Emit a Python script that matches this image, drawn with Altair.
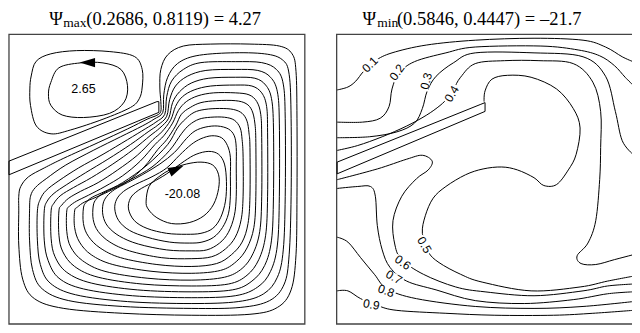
import altair as alt
import pandas as pd

# All positions are digitised from the reference figure, in its own pixel grid
# (x to the right, y downward).  The scales below map that grid onto the page.
LEFT_BOX = [4, 34, 306, 331]
RIGHT_BOX = [338.5, 34, 642, 331]

LEFT_PLATE = [(4, 164), (155, 103), (157, 103), (157, 114), (4, 178)]
RIGHT_PLATE = [(339, 165), (485, 106), (490, 104), (490, 113), (339, 177)]

# Secondary (upper-left) cell of the stream function, closed loops
UPPER_CELL = [
    [(26.7, 76.7), (31.7, 61.7), (46.7, 54), (73, 50.7), (107, 51.7), (132, 56.7), (140, 70), (140, 88),
     (137, 100), (128, 109), (100, 121), (67, 132), (47, 136), (32, 128), (26, 107), (25.3, 90)],
    [(46.7, 83.3), (55, 68.3), (76.7, 63.3), (100, 63.3), (118.3, 70), (125, 86.7), (121.7, 103.3),
     (106.7, 115), (80, 119.3), (58.3, 116.7), (46.7, 106.7), (44.3, 95)],
]

# Main (clockwise) cell of the stream function, closed loops from outside in
MAIN_CELL = [
    [(159, 103), (158, 88), (159, 70), (166, 55), (182, 46), (210, 44), (250, 44), (280, 46), (293, 54), (297, 72),
     (298, 120), (298, 200), (297, 260), (292, 296), (278, 314), (250, 321), (190, 322), (120, 320), (60, 315),
     (30, 305), (18, 285), (14, 250), (14, 215), (14, 200), (16, 190), (24, 180), (40, 171), (60, 161), (95, 145),
     (125, 131), (145, 121), (155, 117), (159, 113)],
    [(161, 114), (162, 96), (166, 78), (176, 64), (195, 56), (230, 53), (265, 54), (283, 60), (290, 75), (292, 120),
     (292, 200), (290, 260), (285, 290), (270, 307), (240, 314), (190, 315), (120, 313), (65, 307), (38, 295),
     (28, 275), (25, 245), (25, 215), (26, 200), (31, 191), (42, 182), (62, 168), (90, 153), (118, 139),
     (140, 128), (152, 121)],
    [(163, 116), (165, 98), (170, 82), (182, 70), (200, 63), (235, 62), (262, 63), (277, 70), (284, 85), (286, 120),
     (286, 200), (284, 255), (278, 283), (264, 300), (238, 308), (190, 310), (125, 308), (72, 301), (46, 289),
     (36, 270), (33, 245), (33, 215), (36, 203), (42, 194), (55, 184), (75, 171), (100, 157), (125, 142),
     (143, 131), (154, 124)],
    [(165, 118), (168, 101), (174, 87), (186, 77), (205, 71), (235, 70), (258, 71), (271, 78), (278, 93), (280, 125),
     (280, 200), (278, 250), (271, 277), (258, 293), (235, 302), (190, 304), (130, 302), (80, 295), (55, 284),
     (44, 266), (40, 245), (40, 215), (43, 205), (50, 197), (63, 188), (82, 176), (105, 162), (128, 147),
     (146, 134), (156, 127)],
    [(167, 120), (171, 104), (178, 93), (190, 84), (208, 79), (235, 78), (255, 79), (266, 86), (272, 100), (274, 130),
     (274, 200), (272, 245), (265, 271), (252, 287), (232, 296), (190, 298), (135, 296), (88, 289), (63, 278),
     (51, 262), (47, 243), (47, 215), (50, 207), (57, 199), (70, 191), (88, 181), (110, 167), (131, 152),
     (148, 138), (158, 130)],
    [(169, 122), (174, 108), (181, 98), (193, 91), (210, 87), (235, 86), (252, 87), (262, 94), (267, 108), (268, 135),
     (268, 200), (266, 240), (259, 265), (247, 281), (228, 290), (190, 292), (140, 290), (95, 283), (71, 272),
     (59, 257), (55, 240), (55, 215), (58, 209), (65, 202), (77, 195), (95, 186), (115, 173), (135, 158),
     (151, 142), (160, 134)],
    [(171, 125), (177, 112), (185, 103), (197, 97), (213, 94), (235, 94), (249, 96), (257, 103), (261, 116), (262, 140),
     (262, 200), (260, 236), (253, 259), (242, 274), (224, 283), (190, 286), (145, 284), (102, 277), (79, 266),
     (67, 252), (63, 236), (63, 215), (66, 210), (73, 205), (85, 199), (102, 190), (120, 179), (138, 164),
     (153, 147), (162, 138)],
    [(174, 128), (180, 116), (189, 109), (200, 104), (216, 102), (235, 102), (246, 105), (252, 112), (255, 125),
     (256, 145), (256, 200), (254, 232), (247, 253), (236, 267), (220, 276), (190, 279), (150, 277), (110, 270),
     (88, 260), (76, 247), (71, 232), (71, 215), (74, 211), (81, 206), (93, 201), (110, 193), (126, 184),
     (142, 170), (156, 152), (165, 142)],
    [(176, 130), (184, 121), (193, 114), (204, 111), (219, 110), (233, 111), (242, 115), (247, 123), (249, 135),
     (250, 150), (250, 200), (248, 228), (242, 247), (231, 260), (216, 269), (190, 272), (155, 270), (118, 263),
     (97, 253), (85, 241), (80, 228), (80, 212), (83, 206), (89, 201), (102, 195), (120, 186), (145, 168), (166, 147)],
    [(180, 136), (188, 127), (198, 121), (210, 119), (224, 119), (234, 122), (240, 130), (242, 142), (243, 160),
     (243, 200), (241, 224), (235, 242), (225, 254), (211, 262), (190, 264), (160, 263), (127, 256), (107, 247),
     (95, 236), (90, 224), (90, 210), (93, 203), (100, 197), (112, 191), (128, 183), (150, 170), (168, 153)],
    [(185, 141), (194, 133), (205, 129), (217, 128), (228, 131), (234, 138), (236, 150), (236, 170), (236, 200),
     (234, 220), (228, 237), (219, 248), (206, 255), (190, 256), (165, 255), (136, 249), (117, 241), (105, 231),
     (100, 220), (100, 208), (104, 200), (112, 193), (125, 186), (140, 178), (158, 167), (173, 155)],
    [(190, 147), (200, 141), (211, 138), (221, 140), (227, 148), (230, 160), (230, 180), (230, 200), (228, 218),
     (222, 232), (213, 242), (201, 247), (188, 248), (168, 247), (145, 242), (127, 235), (116, 225), (112, 213),
     (114, 203), (121, 195), (133, 188), (150, 180), (165, 171), (178, 158)],
    [(183, 164), (195, 157), (208, 154), (218, 157), (224, 167), (226, 185), (225, 205), (220, 222), (212, 233),
     (200, 238), (185, 239), (165, 238), (145, 233), (132, 225), (126, 213), (128, 202), (136, 194), (150, 186),
     (165, 177)],
    [(144, 205), (147, 190), (157, 180), (170, 172), (185, 167), (200, 165), (212, 168), (218, 178), (218, 192),
     (213, 208), (203, 220), (188, 227), (170, 228), (155, 222), (146, 213)],
]

# Isotherms of the right panel (open lines, wall to wall or wall to plate)
ISOTHERM_LEVELS = ["0.1", "0.2", "0.3", "0.4", "0.5", "0.6", "0.7", "0.8", "0.9"]
ISOTHERMS = [
    [(339, 91), (350, 88), (358, 82), (366, 72), (378, 61), (395, 53), (430, 45), (480, 40), (540, 38), (590, 40),
     (613, 47), (630, 57), (641, 62)],
    [(339, 124), (365, 124), (383, 120), (392, 108), (395, 90), (402, 74), (418, 62), (450, 53), (480, 47), (547, 46),
     (585, 50), (607, 56), (622, 66), (633, 78), (641, 86)],
    [(339, 140), (372, 139), (400, 134), (418, 125), (426, 110), (431, 92), (440, 77), (458, 63), (480, 53),
     (540, 53), (590, 57), (613, 77), (623, 113), (630, 143), (641, 157)],
    [(339, 153), (360, 148), (385, 139), (410, 128), (430, 117), (444, 107), (452, 99), (458, 90), (465, 78),
     (480, 64), (510, 61), (545, 61), (580, 64), (600, 83), (608, 113), (608, 150), (607, 183), (603, 225),
     (595, 248), (584, 261), (588, 269), (603, 270), (622, 265), (641, 260)],
    [(489, 103), (490, 92), (497, 80), (513, 76), (537, 78), (563, 90), (580, 110), (587, 130), (583, 157),
     (575, 173), (563, 188), (550, 189), (540, 181), (523, 173), (507, 170), (488, 172), (470, 178), (450, 190),
     (437, 202), (429, 220), (426, 238), (432, 257), (443, 268), (465, 280), (487, 288), (537, 297), (587, 293),
     (615, 287), (641, 282)],
    [(339, 183), (380, 172), (410, 162), (426, 158), (436, 164), (432, 173), (420, 182), (405, 200), (396, 225),
     (398, 250), (405, 265), (427, 280), (460, 293), (490, 298), (540, 302), (590, 297), (615, 292), (641, 290)],
    [(339, 192), (360, 190), (373, 190), (378, 200), (380, 230), (385, 255), (393, 273), (410, 287), (440, 296),
     (480, 307), (530, 310), (580, 306), (615, 300), (641, 298)],
    [(339, 242), (350, 247), (363, 263), (377, 280), (390, 295), (420, 305), (480, 313), (540, 315), (590, 313),
     (641, 308)],
    [(339, 297), (350, 297), (363, 305), (380, 312), (400, 317), (450, 320), (500, 322), (560, 322), (600, 320),
     (641, 317)],
]
ISOTHERM_LABEL_X = [372.5, 400, 430, 456, 428, 406, 397, 389, 374]
ISOTHERM_LABEL_Y = [65, 73, 82, 95, 250, 268, 283, 297, 311]
ISOTHERM_LABEL_ANGLE = [315, 305, 285, 300, 60, 35, 30, 20, 10]

CELL_LABELS = ["2.65", "-20.08"]
CELL_LABEL_X = [80, 181]
CELL_LABEL_Y = [90, 198]

ARROW_X = [84, 175]
ARROW_Y = [63, 172]
ARROW_ANGLE = [0, 155]

TITLE_PSI_X = [45, 365]
TITLE_SUB = ["max", "min"]
TITLE_SUB_X = [59.5, 380]
TITLE_REST = ["(0.2686, 0.8119) = 4.27", "(0.5846, 0.4447) = \u201321.7"]
TITLE_REST_X = [83, 400]
TITLE_BASE_Y = 24

# ---------------------------------------------------------------- tables
rows = []
for gname, group, kind in [("up", UPPER_CELL, "closed"), ("main", MAIN_CELL, "closed"),
                           ("iso", ISOTHERMS, "open")]:
    for j, pts in enumerate(group):
        for i, (x, y) in enumerate(pts):
            rows.append({"id": f"{gname}{j}", "kind": kind, "i": i, "x": x, "y": y})
for name, pts in [("plateL", LEFT_PLATE), ("plateR", RIGHT_PLATE)]:
    for i, (x, y) in enumerate(pts):
        rows.append({"id": name, "kind": "plate", "i": i, "x": x, "y": y})
lines = pd.DataFrame(rows)

boxes = pd.DataFrame([LEFT_BOX, RIGHT_BOX], columns=["x", "y", "x2", "y2"])
iso_labels = pd.DataFrame({"text": ISOTHERM_LEVELS, "x": ISOTHERM_LABEL_X, "y": ISOTHERM_LABEL_Y,
                           "angle": ISOTHERM_LABEL_ANGLE})
cell_labels = pd.DataFrame({"text": CELL_LABELS, "x": CELL_LABEL_X, "y": CELL_LABEL_Y})
arrows = pd.DataFrame({"x": ARROW_X, "y": ARROW_Y, "angle": ARROW_ANGLE})
t_psi = pd.DataFrame({"text": ["\u03a8", "\u03a8"], "x": TITLE_PSI_X, "y": [TITLE_BASE_Y] * 2})
t_sub = pd.DataFrame({"text": TITLE_SUB, "x": TITLE_SUB_X, "y": [TITLE_BASE_Y + 2.5] * 2})
t_rest = pd.DataFrame({"text": TITLE_REST, "x": TITLE_REST_X, "y": [TITLE_BASE_Y] * 2})

xs = alt.Scale(domain=[3, 640], nice=False, zero=False)
ys = alt.Scale(domain=[7, 332], nice=False, zero=False, reverse=True)
X = alt.X("x:Q", scale=xs, axis=None)
Y = alt.Y("y:Q", scale=ys, axis=None)

base = alt.Chart(lines).encode(x=X, y=Y, detail="id:N", order="i:Q")
closed = base.transform_filter(alt.datum.kind == "closed").mark_line(
    interpolate="cardinal-closed", color="black", strokeWidth=1)
opened = base.transform_filter(alt.datum.kind == "open").mark_line(
    interpolate="cardinal", color="black", strokeWidth=1)
plates = base.transform_filter(alt.datum.kind == "plate").mark_line(
    interpolate="linear-closed", color="black", strokeWidth=1)

box = alt.Chart(boxes).mark_rect(fillOpacity=0, stroke="#444444", strokeWidth=1.3).encode(
    x=X, y=Y, x2="x2:Q", y2="y2:Q")

label_bg = alt.Chart(iso_labels).mark_point(
    shape="M-1,-0.42L1,-0.42L1,0.42L-1,0.42Z", filled=True, fill="white", opacity=1, size=380,
    strokeWidth=0).encode(x=X, y=Y, angle=alt.Angle("angle:Q", scale=None))
label_txt = alt.Chart(iso_labels).mark_text(
    font="Liberation Sans", fontSize=12, color="black", baseline="middle", align="center").encode(
    x=X, y=Y, text="text:N", angle=alt.Angle("angle:Q", scale=None))

cell_txt = alt.Chart(cell_labels).mark_text(
    font="Liberation Sans", fontSize=12.5, color="black", baseline="middle", align="center").encode(
    x=X, y=Y, text="text:N")

arrow = alt.Chart(arrows).mark_point(
    shape="M-1,0L1,-0.6L1,0.6Z", filled=True, color="black", opacity=1, size=240).encode(
    x=X, y=Y, angle=alt.Angle("angle:Q", scale=None))

title_font = "Liberation Serif"
t1 = alt.Chart(t_psi).mark_text(font=title_font, fontSize=18.5, align="left", baseline="alphabetic",
                                color="black").encode(x=X, y=Y, text="text:N")
t2 = alt.Chart(t_sub).mark_text(font=title_font, fontSize=13.5, align="left", baseline="alphabetic",
                                color="black").encode(x=X, y=Y, text="text:N")
t3 = alt.Chart(t_rest).mark_text(font=title_font, fontSize=18.5, align="left", baseline="alphabetic",
                                 color="black").encode(x=X, y=Y, text="text:N")

chart = alt.layer(box, closed, opened, plates, label_bg, label_txt, cell_txt, arrow, t1, t2, t3).properties(
    width=624, height=317, autosize=alt.AutoSizeParams(type="none"), padding=0,
    background="white").configure_view(stroke=None)

chart.save("out.html", embed_options={"renderer": "svg", "actions": False})
